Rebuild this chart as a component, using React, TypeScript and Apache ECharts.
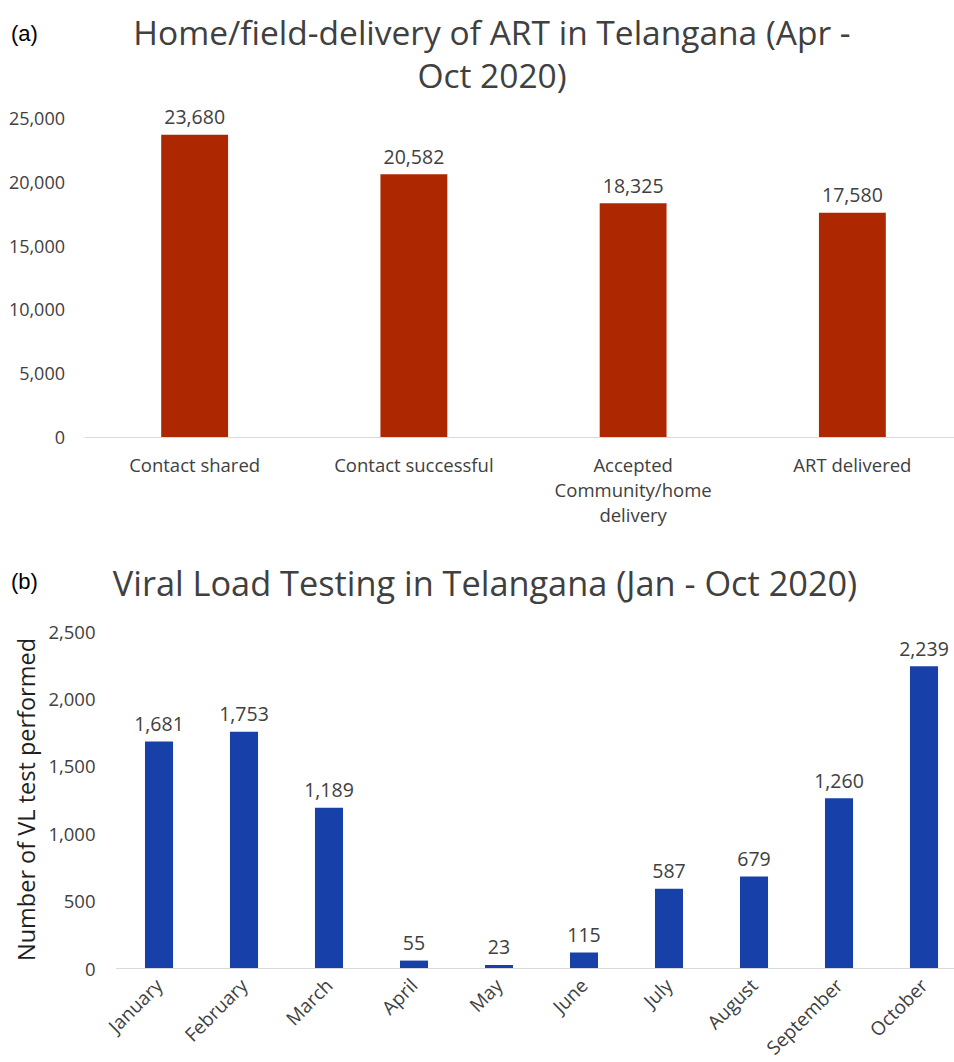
import React, { useEffect, useRef } from "react";
import * as echarts from "echarts";

const deliveryCategories = ["Contact shared", "Contact successful", "Accepted\nCommunity/home\ndelivery", "ART delivered"];
const deliveryValues = [23680, 20582, 18325, 17580];
const months = ["January", "February", "March", "April", "May", "June", "July", "August", "September", "October"];
const vlValues = [1681, 1753, 1189, 55, 23, 115, 587, 679, 1260, 2239];

const FONT = "'Open Sans', Lato, sans-serif";
const fmt = (v: number) => v.toLocaleString("en-US");

export default function App() {
  const ref = useRef<HTMLDivElement>(null);
  useEffect(() => {
    if (!ref.current) return;
    const chart = echarts.init(ref.current, undefined, { renderer: "svg" });
    chart.setOption({
      animation: false,
      backgroundColor: "#ffffff",
      textStyle: { fontFamily: FONT },
      title: [
        {
          text: "Home/field-delivery of ART in Telangana (Apr -\nOct 2020)",
          left: 492, top: 10, padding: 0, textAlign: "center",
          textStyle: { fontFamily: FONT, fontSize: 33.5, fontWeight: "normal", color: "#404040", lineHeight: 43 },
        },
        {
          text: "Viral Load Testing in Telangana (Jan - Oct 2020)",
          left: 485, top: 561, padding: 0, textAlign: "center",
          textStyle: { fontFamily: FONT, fontSize: 34.3, fontWeight: "normal", color: "#404040", lineHeight: 43 },
        },
      ],
      graphic: [
        { type: "text", left: 11, top: 22, style: { text: "(a)", font: "22px 'Liberation Sans', Arial, sans-serif", fill: "#000" } },
        { type: "text", left: 11, top: 570, style: { text: "(b)", font: "22px 'Liberation Sans', Arial, sans-serif", fill: "#000" } },
      ],
      grid: [
        { left: 85, width: 877, top: 118, height: 319, containLabel: false, outerBoundsMode: "none" },
        { left: 116.5, width: 850, top: 631, height: 337, containLabel: false, outerBoundsMode: "none" },
      ],
      xAxis: [
        {
          type: "category", gridIndex: 0, data: deliveryCategories,
          axisLine: { lineStyle: { color: "#d9d9d9" } }, axisTick: { show: false },
          axisLabel: { color: "#404040", fontSize: 18.5, margin: 15, lineHeight: 25, interval: 0, fontFamily: FONT },
        },
        {
          type: "category", gridIndex: 1, data: months,
          axisLine: { lineStyle: { color: "#d9d9d9" } }, axisTick: { show: false },
          axisLabel: { color: "#404040", fontSize: 19, margin: 14, rotate: 45, interval: 0, fontFamily: FONT },
        },
      ],
      yAxis: [
        {
          type: "value", gridIndex: 0, min: 0, max: 25000, interval: 5000,
          splitLine: { show: false }, axisLine: { show: false }, axisTick: { show: false },
          axisLabel: { color: "#404040", fontSize: 18, margin: 20, formatter: fmt, fontFamily: FONT },
        },
        {
          type: "value", gridIndex: 1, min: 0, max: 2500, interval: 500,
          splitLine: { show: false }, axisLine: { show: false }, axisTick: { show: false },
          axisLabel: { color: "#404040", fontSize: 18.5, margin: 21, formatter: fmt, fontFamily: FONT },
          name: "Number of VL test performed", nameLocation: "middle", nameGap: 79,
          nameTextStyle: { color: "#1f1f1f", fontSize: 23.5, fontWeight: "normal", fontFamily: FONT },
        },
      ],
      series: [
        {
          type: "bar", xAxisIndex: 0, yAxisIndex: 0, data: deliveryValues, barWidth: "30.5%",
          itemStyle: { color: "#AD2800" },
          label: { show: true, position: "top", distance: 8, color: "#404040", fontSize: 19.5, formatter: (p: any) => fmt(p.value), fontFamily: FONT },
        },
        {
          type: "bar", xAxisIndex: 1, yAxisIndex: 1, data: vlValues, barWidth: "33%",
          itemStyle: { color: "#1740A8" },
          label: { show: true, position: "top", distance: 8, color: "#404040", fontSize: 19.5, formatter: (p: any) => fmt(p.value), fontFamily: FONT },
        },
      ],
    });
    return () => chart.dispose();
  }, []);
  return (
    <div style={{ position: "absolute", left: 0, top: 0, width: 954, height: 1062, overflow: "hidden", background: "#fff" }}>
      <div ref={ref} style={{ width: 980, height: 1062 }} />
    </div>
  );
}
